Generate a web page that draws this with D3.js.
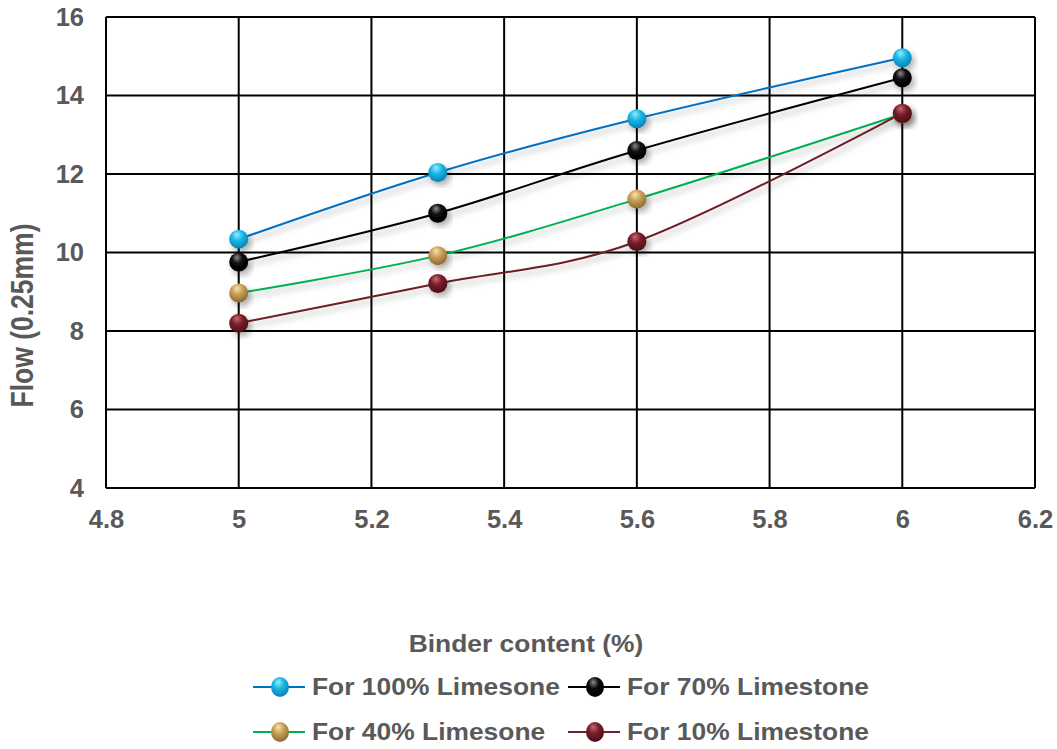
<!DOCTYPE html>
<html>
<head>
<meta charset="utf-8">
<script src="https://cdn.jsdelivr.net/npm/d3@7"></script>
<style>
  html, body { margin: 0; padding: 0; background: #fff; }
  svg { display: block; font-family: "Liberation Sans", Arial, sans-serif; }
</style>
</head>
<body>
<svg id="chart" width="1057" height="749"></svg>
<script>
// Binder content (%) on the x axis
const binder = [5, 5.3, 5.6, 6];

// Flow values (0.25 mm) for each limestone share
const flow100 = [10.34, 12.04, 13.41, 14.96];
const flow70  = [9.76, 11.0, 12.6, 14.45];
const flow40  = [8.97, 9.92, 11.36, 13.53];
const flow10  = [8.2, 9.21, 10.28, 13.55];

const seriesNames = ["For 100% Limesone", "For 70% Limestone", "For 40% Limesone", "For 10% Limestone"];
const lineColors   = ["#0070C0", "#000000", "#00B050", "#6E1E26"];
const markerLight  = ["#9BEBFF", "#8a8a8a", "#FBE3A8", "#C46a72"];
const markerMid    = ["#19B8E8", "#0a0a0a", "#C9A05A", "#7A1E2A"];
const markerDark   = ["#0B7FB0", "#000000", "#8A6A30", "#4A0E16"];

const xTicks = [4.8, 5, 5.2, 5.4, 5.6, 5.8, 6, 6.2];
const yTicks = [4, 6, 8, 10, 12, 14, 16];

const allSeries = [flow100, flow70, flow40, flow10];

const W = 1057, H = 749;
const margin = { top: 17, right: 22, bottom: 261, left: 106 };
const svg = d3.select("#chart");
const defs = svg.append("defs");

// soft drop shadow for lines and markers
const shadow = defs.append("filter").attr("id", "shadow")
  .attr("x", "-30%").attr("y", "-30%").attr("width", "160%").attr("height", "160%");
shadow.append("feDropShadow").attr("dx", 3).attr("dy", 4)
  .attr("stdDeviation", 3).attr("flood-color", "#000").attr("flood-opacity", 0.3);

// glossy sphere gradients
allSeries.forEach((_, i) => {
  const g = defs.append("radialGradient").attr("id", "ball" + i)
    .attr("cx", "45%").attr("cy", "35%").attr("r", "65%").attr("fx", "40%").attr("fy", "25%");
  g.append("stop").attr("offset", "0%").attr("stop-color", markerLight[i]);
  g.append("stop").attr("offset", "45%").attr("stop-color", markerMid[i]);
  g.append("stop").attr("offset", "100%").attr("stop-color", markerDark[i]);
});

const x = d3.scaleLinear().domain([4.8, 6.2]).range([margin.left, W - margin.right]);
const y = d3.scaleLinear().domain([4, 16]).range([H - margin.bottom, margin.top]);

const textColor = "#595959";

// grid
const grid = svg.append("g");
grid.selectAll(".vg").data(xTicks).join("line")
  .attr("x1", d => x(d)).attr("x2", d => x(d))
  .attr("y1", y(4)).attr("y2", y(16))
  .attr("stroke", "#000").attr("stroke-width", 2);
grid.selectAll(".hg").data(yTicks).join("line")
  .attr("x1", x(4.8)).attr("x2", x(6.2))
  .attr("y1", d => y(d)).attr("y2", d => y(d))
  .attr("stroke", "#000").attr("stroke-width", 2);

// axes (labels only)
const xAxis = svg.append("g")
  .attr("transform", `translate(0,${y(4)})`)
  .call(d3.axisBottom(x).tickValues(xTicks).tickSize(0).tickPadding(22).tickFormat(d3.format("")));
const yAxis = svg.append("g")
  .attr("transform", `translate(${x(4.8)},0)`)
  .call(d3.axisLeft(y).tickValues(yTicks).tickSize(0).tickPadding(22).tickFormat(d3.format("")));
[xAxis, yAxis].forEach(a => {
  a.select(".domain").remove();
  a.selectAll("text").attr("fill", textColor)
    .style("font-size", "25.5px").style("font-weight", "bold")
    .style("font-family", "'Liberation Sans', Arial, sans-serif");
});
xAxis.selectAll("text").attr("dy", "0.71em");

// y axis title
svg.append("g")
  .attr("transform", `translate(33,${(y(4) + y(16)) / 2 + 63}) rotate(-90) scale(1,1.15)`)
  .append("text")
  .attr("text-anchor", "middle")
  .attr("fill", textColor).style("font-size", "26.5px").style("font-weight", "bold")
  .text("Flow (0.25mm)");

// x axis title
svg.append("g")
  .attr("transform", "translate(526,652) scale(1,0.9)")
  .append("text")
  .attr("text-anchor", "middle")
  .attr("fill", textColor).style("font-size", "26.4px").style("font-weight", "bold")
  .text("Binder content (%)");

// smoothed series lines
const line = d3.line()
  .x((d, j) => x(binder[j]))
  .y(d => y(d))
  .curve(d3.curveCardinal.tension(0));

const plot = svg.append("g");
allSeries.forEach((vals, i) => {
  plot.append("path")
    .datum(vals)
    .attr("d", line)
    .attr("fill", "none")
    .attr("stroke", lineColors[i])
    .attr("stroke-width", 2)
    .attr("filter", "url(#shadow)");
});
allSeries.forEach((vals, i) => {
  plot.append("g").selectAll("circle").data(vals).join("circle")
    .attr("cx", (d, j) => x(binder[j]))
    .attr("cy", d => y(d))
    .attr("r", 9.5)
    .attr("fill", `url(#ball${i})`)
    .attr("filter", "url(#shadow)");
});

// legend
const legendItems = [
  { i: 0, lx: 253, ty: 687 },
  { i: 1, lx: 568, ty: 687 },
  { i: 2, lx: 253, ty: 732 },
  { i: 3, lx: 568, ty: 732 }
];
const legend = svg.append("g");
legendItems.forEach(it => {
  const g = legend.append("g");
  g.append("line")
    .attr("x1", it.lx).attr("x2", it.lx + 52)
    .attr("y1", it.ty).attr("y2", it.ty)
    .attr("stroke", lineColors[it.i]).attr("stroke-width", 2);
  g.append("ellipse")
    .attr("cx", it.lx + 27).attr("cy", it.ty)
    .attr("rx", 9).attr("ry", 10)
    .attr("fill", `url(#ball${it.i})`);
  g.append("g")
    .attr("transform", `translate(${it.lx + 59},${it.ty + 8}) scale(1,0.9)`)
    .append("text")
    .attr("fill", textColor).style("font-size", "26.4px").style("font-weight", "bold")
    .text(seriesNames[it.i]);
});
</script>
</body>
</html>
